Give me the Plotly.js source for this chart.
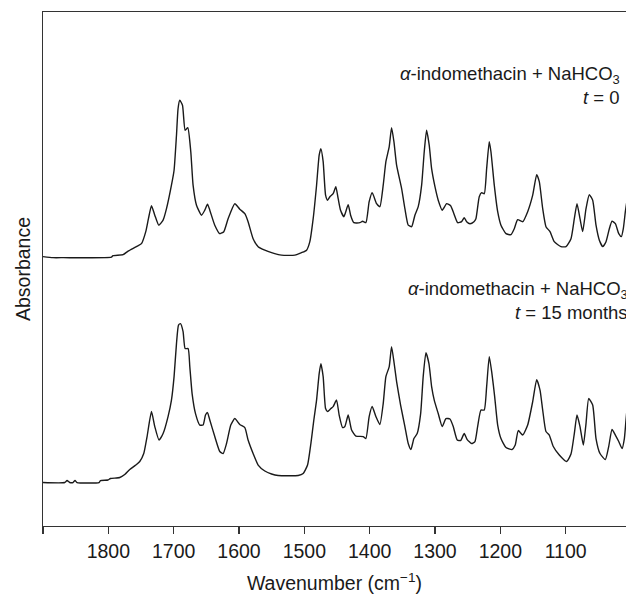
<!DOCTYPE html>
<html>
<head>
<meta charset="utf-8">
<script src="https://cdn.plot.ly/plotly-3.0.1.min.js"></script>
<style>html,body{margin:0;padding:0;background:#fff;}#chart{width:626px;height:598px;}</style>
</head>
<body>
<div id="chart"></div>
<script>
// Wavenumber (cm^-1) and absorbance (arbitrary units) for t = 0 (offset spectrum on top)
const wnTop = [1900,1884.7,1869.4,1795.3,1792.8,1777.5,1769.8,1757,1749.3,1742.7,1738.6,1734,1728.9,1722.8,1716.2,1711,1703.4,1699.4,1695.7,1693.3,1690.7,1686.5,1682.5,1678.4,1673.8,1670.3,1665.1,1657.4,1652.4,1648.2,1644.7,1637.1,1629.4,1623.3,1616.7,1606.4,1598.8,1591.1,1586.1,1578.4,1570.7,1560.5,1550.2,1534.9,1514.5,1504.3,1496.6,1491.6,1486.5,1481.3,1477.3,1474.7,1471.2,1467.5,1464.5,1460.9,1455.9,1451.8,1448.2,1444.6,1439.5,1432.9,1429.2,1424.2,1415,1410.9,1405.8,1400.8,1396.2,1389.4,1384.4,1379.3,1375.2,1370.1,1366.5,1362.9,1358.8,1351.1,1346.1,1341,1335.8,1330.8,1325.7,1320.5,1316.5,1312.9,1308.9,1305.2,1300.1,1295.1,1289,1282.2,1276.1,1271.1,1265.4,1259.3,1255.3,1251.6,1246.5,1240.4,1237.4,1232.3,1228.6,1224.6,1221,1217,1214.4,1209.3,1204.1,1199.1,1191.4,1183.8,1178.7,1173.5,1165.8,1158.2,1150.5,1144.4,1140.4,1135.2,1130.2,1124,1117.5,1107.2,1099.5,1091.9,1086.8,1082.7,1078.1,1074,1068.9,1063.9,1058.7,1053.6,1048.5,1043.3,1038.3,1033.2,1029.1,1024,1018.8,1014.8,1011.8,1008.7,1005];
const absTop = [0.539,0.537,0.537,0.538,0.541,0.543,0.550,0.559,0.565,0.589,0.615,0.641,0.622,0.602,0.612,0.635,0.682,0.712,0.782,0.835,0.852,0.842,0.792,0.797,0.749,0.682,0.642,0.622,0.632,0.644,0.632,0.602,0.585,0.589,0.615,0.645,0.634,0.625,0.609,0.575,0.559,0.552,0.547,0.542,0.542,0.547,0.552,0.569,0.615,0.682,0.742,0.755,0.729,0.662,0.652,0.659,0.665,0.679,0.655,0.632,0.619,0.643,0.622,0.607,0.607,0.610,0.607,0.649,0.667,0.645,0.639,0.682,0.729,0.759,0.797,0.769,0.722,0.675,0.635,0.602,0.599,0.622,0.639,0.682,0.749,0.792,0.762,0.715,0.679,0.652,0.632,0.645,0.641,0.625,0.607,0.609,0.617,0.609,0.605,0.609,0.615,0.659,0.667,0.665,0.715,0.769,0.749,0.682,0.629,0.602,0.585,0.583,0.595,0.613,0.609,0.629,0.662,0.703,0.689,0.635,0.599,0.589,0.569,0.559,0.559,0.575,0.615,0.645,0.615,0.589,0.635,0.663,0.652,0.602,0.572,0.559,0.569,0.595,0.610,0.605,0.585,0.579,0.595,0.629,0.662];

// t = 15 months
const wnBottom = [1900,1866.8,1863.2,1859.1,1854.1,1851,1847.9,1814.2,1812.1,1800.5,1796.8,1782.5,1774.9,1767.2,1758,1751.9,1745.8,1740.7,1734,1728.9,1722.4,1716.2,1708.6,1703.4,1699.4,1695.7,1692.6,1689.6,1685.6,1682.5,1677.9,1675.3,1671.8,1666.6,1660,1655,1651.3,1648.2,1644.7,1637.1,1629.4,1624.3,1619.1,1612.6,1606.4,1598.8,1591.1,1586.1,1578.4,1570.7,1560.5,1550.2,1540.1,1509.5,1501.8,1495.1,1490,1485.5,1481.3,1477.3,1474.7,1471.2,1467.5,1464.5,1459.4,1455.9,1450.7,1446.7,1441.5,1438,1432.9,1427.7,1421.1,1410,1405.8,1400.8,1396.2,1390.5,1384.4,1379.3,1375.2,1370.1,1366.5,1362.5,1358.8,1352.7,1346.1,1341,1336.9,1332.3,1327.3,1322,1318.1,1313.9,1309.3,1305.2,1301.2,1295.1,1289,1283.3,1277.2,1272.1,1266,1260.8,1255.3,1250.7,1244,1238.9,1234.8,1229.7,1224.7,1221,1217,1212.9,1208.7,1204.1,1199.1,1191.4,1182.2,1177.2,1172.6,1165.8,1158.2,1150.5,1144.4,1139.3,1135.2,1130.2,1125.1,1119,1109.8,1098.5,1091.9,1086.8,1082.7,1078.1,1073,1068.9,1064.8,1058.7,1053.6,1047.5,1039.3,1034.2,1029.1,1024,1018.8,1013.8,1010.2,1007.7,1005];
const absBottom = [0.087,0.087,0.091,0.087,0.087,0.091,0.087,0.087,0.091,0.092,0.095,0.097,0.103,0.113,0.122,0.129,0.145,0.179,0.229,0.199,0.172,0.185,0.219,0.252,0.299,0.365,0.402,0.405,0.389,0.355,0.355,0.319,0.265,0.225,0.202,0.202,0.222,0.227,0.212,0.179,0.149,0.145,0.165,0.202,0.215,0.203,0.197,0.172,0.145,0.122,0.110,0.104,0.101,0.101,0.105,0.122,0.165,0.212,0.252,0.305,0.325,0.299,0.235,0.229,0.235,0.239,0.252,0.222,0.197,0.199,0.222,0.192,0.180,0.179,0.175,0.219,0.239,0.219,0.203,0.245,0.299,0.319,0.359,0.325,0.289,0.242,0.199,0.165,0.153,0.175,0.185,0.225,0.299,0.347,0.325,0.279,0.252,0.225,0.199,0.215,0.214,0.199,0.172,0.171,0.185,0.173,0.165,0.169,0.199,0.232,0.232,0.279,0.339,0.305,0.259,0.202,0.175,0.157,0.153,0.162,0.191,0.182,0.202,0.249,0.293,0.272,0.232,0.189,0.182,0.159,0.142,0.129,0.144,0.185,0.222,0.199,0.162,0.205,0.255,0.242,0.175,0.145,0.133,0.159,0.193,0.182,0.169,0.155,0.175,0.212,0.25];

const tickValues = [1900,1800,1700,1600,1500,1400,1300,1200,1100];
const tickLabels = ['', '1800','1700','1600','1500','1400','1300','1200','1100'];

const labelLines = [
  '<i>α</i>-indomethacin + NaHCO<sub>3</sub>',
  '<i>t</i> = 0',
  '<i>α</i>-indomethacin + NaHCO<sub>3</sub>',
  '<i>t</i> = 15 months'
];

const FONT = '"Liberation Sans", Arial, Helvetica, sans-serif';
const lineStyle = {color: '#1a1a1a', width: 1.4, shape: 'spline', smoothing: 0.5};

const traces = [
  {x: wnTop, y: absTop, type: 'scatter', mode: 'lines', line: lineStyle, hoverinfo: 'skip'},
  {x: wnBottom, y: absBottom, type: 'scatter', mode: 'lines', line: lineStyle, hoverinfo: 'skip'}
];

const annFont = {family: FONT, size: 18.5, color: '#1a1a1a'};
const layout = {
  width: 626, height: 598,
  margin: {l: 43, r: 0, t: 12, b: 72},
  paper_bgcolor: '#fff', plot_bgcolor: '#fff',
  showlegend: false,
  font: {family: FONT, color: '#1a1a1a'},
  xaxis: {
    range: [1900, 1007.7],
    showline: true, linecolor: '#333', linewidth: 1.3, mirror: true,
    showgrid: false, zeroline: false,
    ticks: 'outside', ticklen: 7, tickwidth: 1.2, tickcolor: '#333',
    tickmode: 'array', tickvals: tickValues, ticktext: tickLabels,
    tickfont: {family: FONT, size: 19.5, color: '#1a1a1a'},
    title: {text: 'Wavenumber (cm<sup>−1</sup>)', font: {family: FONT, size: 19.5, color: '#1a1a1a'}, standoff: 15}
  },
  yaxis: {
    range: [0, 1.0286],
    showline: true, linecolor: '#333', linewidth: 1.3,
    showgrid: false, zeroline: false, ticks: '', showticklabels: false,
    title: {text: 'Absorbance', font: {family: FONT, size: 19.5, color: '#1a1a1a'}, standoff: 6}
  },
  annotations: [
    {xref: 'paper', yref: 'paper', x: 0.9926, y: 0.878, xanchor: 'right', yanchor: 'middle', text: labelLines[0], showarrow: false, font: annFont},
    {xref: 'paper', yref: 'paper', x: 0.9926, y: 0.833, xanchor: 'right', yanchor: 'middle', text: labelLines[1], showarrow: false, font: annFont},
    {xref: 'paper', yref: 'paper', x: 1.0063, y: 0.460, xanchor: 'right', yanchor: 'middle', text: labelLines[2], showarrow: false, font: annFont},
    {xref: 'paper', yref: 'paper', x: 1.0063, y: 0.415, xanchor: 'right', yanchor: 'middle', text: labelLines[3], showarrow: false, font: annFont}
  ]
};

Plotly.newPlot('chart', traces, layout, {displayModeBar: false, staticPlot: true});
</script>
</body>
</html>
